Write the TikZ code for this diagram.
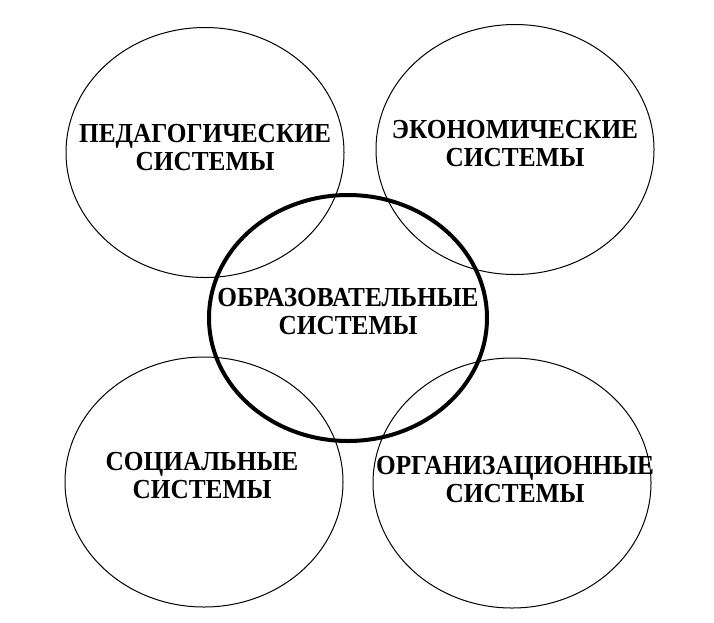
\documentclass[tikz,border=0pt]{standalone}
\usepackage{fontspec}
\setmainfont{Liberation Serif}[FakeStretch=0.92]
\usetikzlibrary{shapes.geometric}
\begin{document}
\begin{tikzpicture}[x=1pt,y=-1pt,
  sys/.style={ellipse, draw=black, line width=1pt, inner sep=0pt,
    minimum width=278pt, minimum height=250pt},
  core/.style={ellipse, draw=black, line width=4pt, inner sep=0pt,
    minimum width=278pt, minimum height=246pt},
  lbl/.style={align=center, inner sep=0pt, text=black,
    font=\bfseries\fontsize{27.5}{28}\selectfont}]
\fill[white] (0,0) rectangle (714,622);
\useasboundingbox (0,0) rectangle (714,622);
\node[sys] (ped) at (205,152.5) {};
\node[sys] (eco) at (515,149.5) {};
\node[sys] (soc) at (204,482) {};
\node[sys] (org) at (512,483) {};
\node[core] (obr) at (348,318) {};
\node[lbl] (tped) at ([yshift=5pt]ped.center) {ПЕДАГОГИЧЕСКИЕ\\СИСТЕМЫ};
\node[lbl] (teco) at ([yshift=5.5pt]eco.center) {ЭКОНОМИЧЕСКИЕ\\СИСТЕМЫ};
\node[lbl] (tsoc) at ([xshift=-2pt,yshift=6pt]soc.center) {СОЦИАЛЬНЫЕ\\СИСТЕМЫ};
\node[lbl] (torg) at ([xshift=3pt,yshift=3pt]org.center) {ОРГАНИЗАЦИОННЫЕ\\СИСТЕМЫ};
\node[lbl] (tobr) at ([yshift=6.5pt]obr.center) {ОБРАЗОВАТЕЛЬНЫЕ\\СИСТЕМЫ};
\end{tikzpicture}
\end{document}
